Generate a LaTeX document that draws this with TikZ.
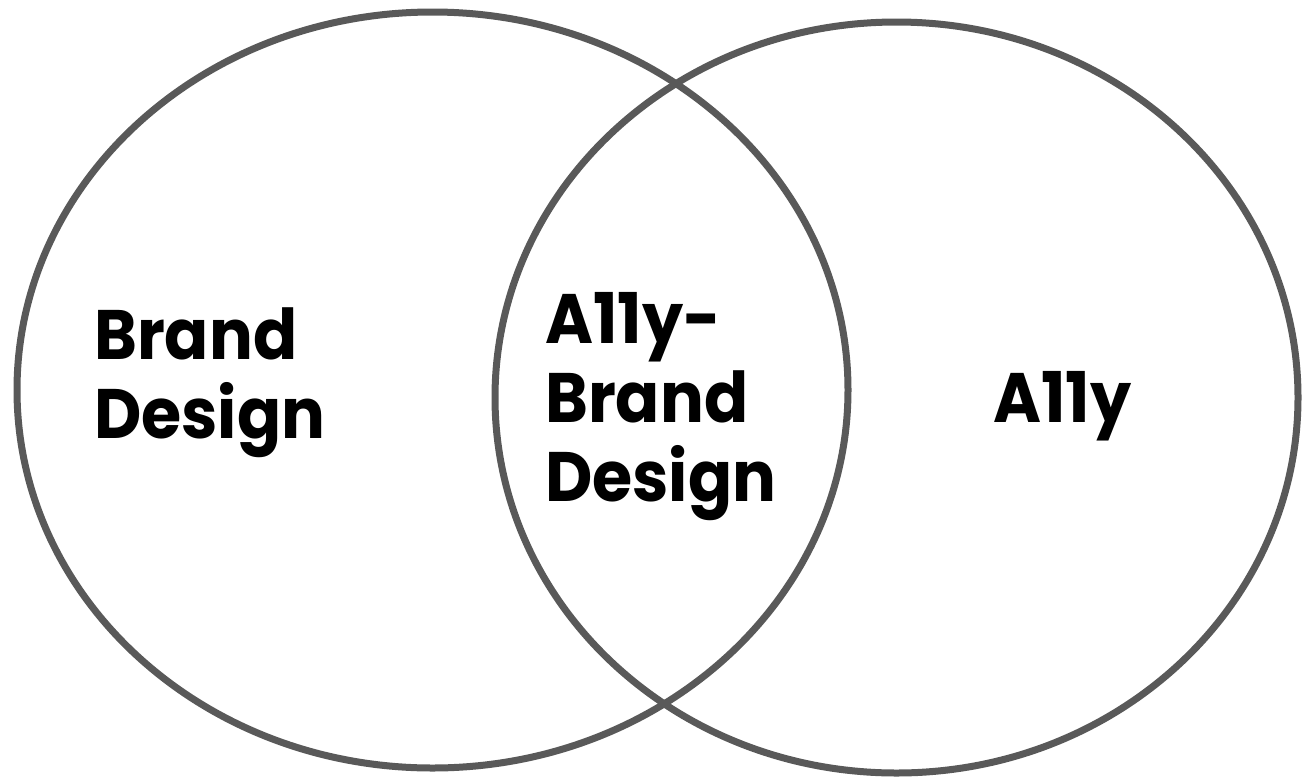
\documentclass[tikz,border=0pt]{standalone}
\usepackage{fontspec}
\setmainfont{Poppins}[BoldFont={* Bold},FakeStretch=0.93]
\begin{document}
\begin{tikzpicture}[x=1pt,y=-1pt,
  ring/.style={draw=ringgray,line width=7pt},
  lbl/.style={font=\fontsize{70}{79}\selectfont\bfseries,align=left,inner sep=0pt,text=black}]
\definecolor{ringgray}{HTML}{595959}
\useasboundingbox (0,0) rectangle (1303,780);
\draw[ring] (432.5,390) ellipse [x radius=415.5, y radius=378];
\draw[ring] (896.5,397.5) ellipse [x radius=401.5, y radius=375.5];
\node[lbl,anchor=base west] (brand) at (94,438) {Brand\\Design};
\node[lbl,anchor=base west] (mid) at (545,501) {A11y-\\Brand\\Design};
\node[lbl,anchor=base west] (ally) at (993,422) {A11y};
\end{tikzpicture}
\end{document}
